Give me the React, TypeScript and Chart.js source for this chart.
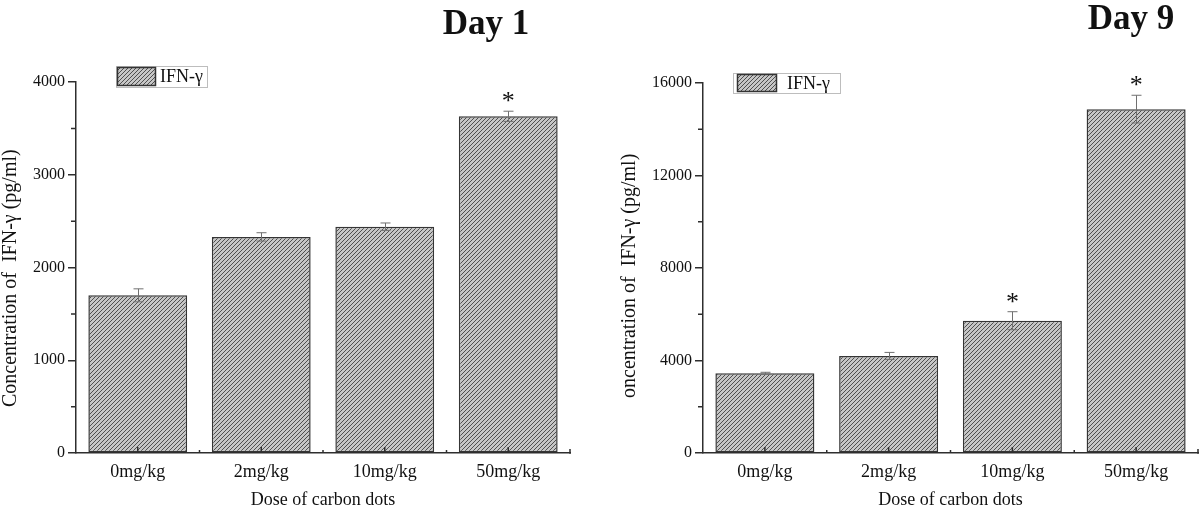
import React, { useEffect, useRef } from "react";
import { Chart, registerables } from "chart.js";

Chart.register(...registerables);

// ---------- data ----------
const categories = ["0mg/kg", "2mg/kg", "10mg/kg", "50mg/kg"];
const seriesLabel = "IFN-γ";

const day1Values = [1700, 2330, 2440, 3630];
const day1Errors = [70, 45, 40, 55];
const day1Significant = [false, false, false, true];
const day1TickValues = [0, 1000, 2000, 3000, 4000];

const day9Values = [3450, 4200, 5720, 14870];
const day9Errors = [40, 150, 390, 600];
const day9Significant = [false, false, true, true];
const day9TickValues = [0, 4000, 8000, 12000, 16000];

const xTitle = "Dose of carbon dots";
const day1YTitle = "Concentration of  IFN-γ (pg/ml)";
const day9YTitle = "oncentration of  IFN-γ (pg/ml)";
const day1Title = "Day 1";
const day9Title = "Day 9";

const SERIF = "'Liberation Serif', 'Times New Roman', serif";
const INK = "#111";
const AXIS = "#2e2e2e";

type PanelCfg = {
  values: number[];
  errors: number[];
  sig: boolean[];
  ticks: number[];
  title: string;
  titleX: number;
  titleY: number;
  yTitle: string;
  yTitleX: number;
  yTitleY: number;
  axisWidth: number;
  rightPad: number;
  topPad: number;
  legendBox: number[];
  legendPatch: number[];
  legendTextX: number;
};

const day1Cfg: PanelCfg = {
  values: day1Values,
  errors: day1Errors,
  sig: day1Significant,
  ticks: day1TickValues,
  title: day1Title,
  titleX: 486,
  titleY: 34,
  yTitle: day1YTitle,
  yTitleX: 11,
  yTitleY: 407,
  axisWidth: 76,
  rightPad: 30,
  topPad: 82,
  legendBox: [116, 66, 91, 21],
  legendPatch: [117, 67, 39, 19],
  legendTextX: 160,
};

const day9Cfg: PanelCfg = {
  values: day9Values,
  errors: day9Errors,
  sig: day9Significant,
  ticks: day9TickValues,
  title: day9Title,
  titleX: 531,
  titleY: 29,
  yTitle: day9YTitle,
  yTitleX: 30,
  yTitleY: 398,
  axisWidth: 103,
  rightPad: 2,
  topPad: 83,
  legendBox: [133, 73, 107, 20],
  legendPatch: [137, 74, 40, 18],
  legendTextX: 187,
};

function makeHatch(): CanvasPattern | string {
  const c = document.createElement("canvas");
  c.width = 4;
  c.height = 4;
  const g = c.getContext("2d");
  if (!g) return "#a0a0a0";
  g.fillStyle = "#c6c6c6";
  g.fillRect(0, 0, 4, 4);
  g.strokeStyle = "#4f4f4f";
  g.lineWidth = 1;
  g.beginPath();
  g.moveTo(0, 4);
  g.lineTo(4, 0);
  g.moveTo(-1, 1);
  g.lineTo(1, -1);
  g.moveTo(3, 5);
  g.lineTo(5, 3);
  g.stroke();
  return g.createPattern(c, "repeat") || "#a0a0a0";
}

function makeDecor(cfg: PanelCfg, hatch: CanvasPattern | string) {
  return {
    id: "decor",
    afterDraw(chart: any) {
      const ctx: CanvasRenderingContext2D = chart.ctx;
      const xs = chart.scales.x;
      const ys = chart.scales.y;
      const area = chart.chartArea;
      ctx.save();

      // error bars
      ctx.strokeStyle = "#707070";
      ctx.lineWidth = 1;
      cfg.values.forEach((v, i) => {
        const cx = Math.round(xs.getPixelForValue(i)) + 0.5;
        const top = ys.getPixelForValue(v + cfg.errors[i]);
        const bot = ys.getPixelForValue(v - cfg.errors[i]);
        ctx.beginPath();
        ctx.moveTo(cx, top);
        ctx.lineTo(cx, bot);
        ctx.moveTo(cx - 5, top);
        ctx.lineTo(cx + 5, top);
        ctx.moveTo(cx - 5, bot);
        ctx.lineTo(cx + 5, bot);
        ctx.stroke();
      });

      // asterisks
      ctx.fillStyle = INK;
      ctx.font = `26px ${SERIF}`;
      ctx.textAlign = "center";
      ctx.textBaseline = "alphabetic";
      cfg.values.forEach((v, i) => {
        if (!cfg.sig[i]) return;
        const cx = xs.getPixelForValue(i);
        const top = ys.getPixelForValue(v + cfg.errors[i]);
        ctx.fillText("*", cx, top - 2);
      });

      // y minor ticks (outward)
      ctx.strokeStyle = AXIS;
      ctx.lineWidth = 1.5;
      ctx.beginPath();
      for (let k = 0; k < cfg.ticks.length - 1; k++) {
        const mid = (cfg.ticks[k] + cfg.ticks[k + 1]) / 2;
        const py = ys.getPixelForValue(mid);
        ctx.moveTo(area.left, py);
        ctx.lineTo(area.left - 5, py);
      }
      // x major ticks (inward)
      categories.forEach((_, i) => {
        const px = xs.getPixelForValue(i);
        ctx.moveTo(px, area.bottom);
        ctx.lineTo(px, area.bottom - 6);
      });
      // x minor ticks at category boundaries
      for (let i = 0; i < categories.length - 1; i++) {
        const px = (xs.getPixelForValue(i) + xs.getPixelForValue(i + 1)) / 2;
        ctx.moveTo(px, area.bottom);
        ctx.lineTo(px, area.bottom - 3);
      }
      ctx.moveTo(area.right, area.bottom + 0.75);
      ctx.lineTo(area.right, area.bottom - 4);
      ctx.stroke();

      // legend
      const [bx, by, bw, bh] = cfg.legendBox;
      ctx.fillStyle = "#fff";
      ctx.fillRect(bx, by, bw, bh);
      ctx.strokeStyle = "#bdbdbd";
      ctx.lineWidth = 1;
      ctx.strokeRect(bx + 0.5, by + 0.5, bw, bh);
      const [px, py, pw, ph] = cfg.legendPatch;
      ctx.fillStyle = hatch as any;
      ctx.fillRect(px, py, pw, ph);
      ctx.strokeStyle = "#333";
      ctx.lineWidth = 1.5;
      ctx.strokeRect(px + 0.5, py + 0.5, pw - 1, ph - 1);
      ctx.fillStyle = INK;
      ctx.font = `18px ${SERIF}`;
      ctx.textAlign = "left";
      ctx.textBaseline = "middle";
      ctx.fillText(seriesLabel, cfg.legendTextX, by + bh / 2 + 1);

      // panel title
      ctx.font = `bold 35px ${SERIF}`;
      ctx.textAlign = "center";
      ctx.textBaseline = "alphabetic";
      ctx.fillText(cfg.title, cfg.titleX, cfg.titleY);

      // x axis title
      ctx.font = `18px ${SERIF}`;
      ctx.fillText(xTitle, (area.left + area.right) / 2, 505);

      // y axis title
      ctx.save();
      ctx.translate(cfg.yTitleX, cfg.yTitleY);
      ctx.rotate(-Math.PI / 2);
      ctx.font = `20px ${SERIF}`;
      ctx.textAlign = "left";
      ctx.textBaseline = "middle";
      ctx.fillText(cfg.yTitle, 0, 0);
      ctx.restore();

      ctx.restore();
    },
  };
}

function Panel({ cfg, left }: { cfg: PanelCfg; left: number }) {
  const ref = useRef<HTMLCanvasElement | null>(null);
  useEffect(() => {
    if (!ref.current) return;
    const hatch = makeHatch();
    const yMax = cfg.ticks[cfg.ticks.length - 1];
    const step = cfg.ticks[1] - cfg.ticks[0];
    const chart = new Chart(ref.current, {
      type: "bar",
      data: {
        labels: categories,
        datasets: [
          {
            label: seriesLabel,
            data: cfg.values,
            backgroundColor: hatch as any,
            borderColor: "#353535",
            borderWidth: 1.5,
            borderSkipped: false,
            categoryPercentage: 0.8,
            barPercentage: 1.0,
          },
        ],
      },
      options: {
        animation: false,
        responsive: false,
        maintainAspectRatio: false,
        layout: { padding: { top: cfg.topPad, right: cfg.rightPad, left: 0, bottom: 0 } },
        plugins: {
          legend: { display: false },
          tooltip: { enabled: false },
          title: { display: false },
        },
        scales: {
          x: {
            offset: true,
            grid: { display: false, drawTicks: false },
            border: { display: true, color: AXIS, width: 1.5 },
            ticks: {
              color: INK,
              font: { family: SERIF, size: 18 },
              padding: 8,
              maxRotation: 0,
            },
            afterFit: (s: any) => {
              s.height = 56;
            },
          },
          y: {
            min: 0,
            max: yMax,
            grid: {
              display: true,
              drawOnChartArea: false,
              drawTicks: true,
              tickLength: 8,
              color: AXIS,
              lineWidth: 1.5,
            },
            border: { display: true, color: AXIS, width: 1.5 },
            ticks: {
              stepSize: step,
              color: INK,
              font: { family: SERIF, size: 16 },
              padding: 3,
              callback: (v: any) => String(v),
            },
            afterFit: (s: any) => {
              s.width = cfg.axisWidth;
            },
          },
        },
      },
      plugins: [makeDecor(cfg, hatch)],
    });
    return () => chart.destroy();
  }, [cfg]);
  return (
    <canvas
      ref={ref}
      width={600}
      height={509}
      style={{ position: "absolute", left, top: 0, width: 600, height: 509 }}
    />
  );
}

export default function App() {
  return (
    <div
      style={{
        position: "absolute",
        left: 0,
        top: 0,
        width: 1200,
        height: 509,
        background: "#fff",
        overflow: "hidden",
      }}
    >
      <Panel cfg={day1Cfg} left={0} />
      <Panel cfg={day9Cfg} left={600} />
    </div>
  );
}
